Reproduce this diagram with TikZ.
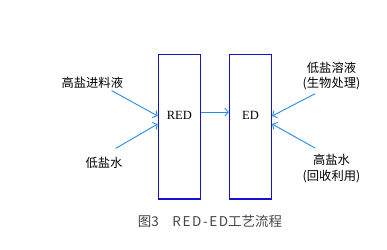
\documentclass[tikz,border=0pt]{standalone}
\usepackage{fontspec}
\setmainfont{Liberation Serif}
\newfontfamily\cjk{Noto Sans CJK SC}
\usetikzlibrary{arrows.meta, positioning}
\definecolor{boxblue}{RGB}{20,20,205}
\definecolor{flowblue}{RGB}{35,140,230}
\definecolor{captiongray}{RGB}{70,70,70}

\begin{document}
\begin{tikzpicture}[
x=1pt, y=-1pt,
unit/.style={draw=boxblue, line width=1.2pt, minimum width=42pt, minimum height=144.7pt, inner sep=0pt},
tag/.style={font=\fontsize{12.5}{14}\selectfont, inner sep=0pt},
stream/.style={align=center, font=\cjk\fontsize{12.3}{15.7}\selectfont, inner sep=0pt},
arrow/.style={-{Straight Barb[length=3.5pt, width=8pt]}, flowblue, line width=0.9pt}
]
\useasboundingbox (0,0) rectangle (387,249);

\node[unit] (red) at (179.3,126.7) {};
\node[unit, right=28pt of red] (ed) {};
\node[tag] (redtag) at ([yshift=11pt]red.center) {RED};
\node[tag] (edtag) at ([yshift=11pt]ed.center) {ED};

\node[stream] (feed) at (92.3,82.7) {高盐进料液};
\node[stream] (dilute) at (104,162.7) {低盐水};
\node[stream] (low) at (331.5,76) {低盐溶液\\(生物处理)};
\node[stream] (high) at (331.5,168.2) {高盐水\\(回收利用)};

\node[font=\cjk\fontsize{13.5}{15}\selectfont, text=captiongray] (caption) at (210,221.7)
  {图3　{\addfontfeature{LetterSpace=12}RED-ED}工艺流程};

\draw[arrow] ([shift={(-11.6pt,-2pt)}]feed.south east) -- ([yshift=10.7pt]red.west);
\draw[arrow] ([shift={(-7pt,8.4pt)}]dilute.north east) -- ([yshift=2.7pt]red.west);
\draw[arrow] ([yshift=14.7pt]red.east) -- ([yshift=14.7pt]ed.west);
\draw[arrow] ([shift={(12.5pt,-3.3pt)}]low.south west) -- ([yshift=10.7pt]ed.east);
\draw[arrow] ([shift={(12.5pt,5.7pt)}]high.north west) -- ([yshift=2.7pt]ed.east);

\end{tikzpicture}
\end{document}
